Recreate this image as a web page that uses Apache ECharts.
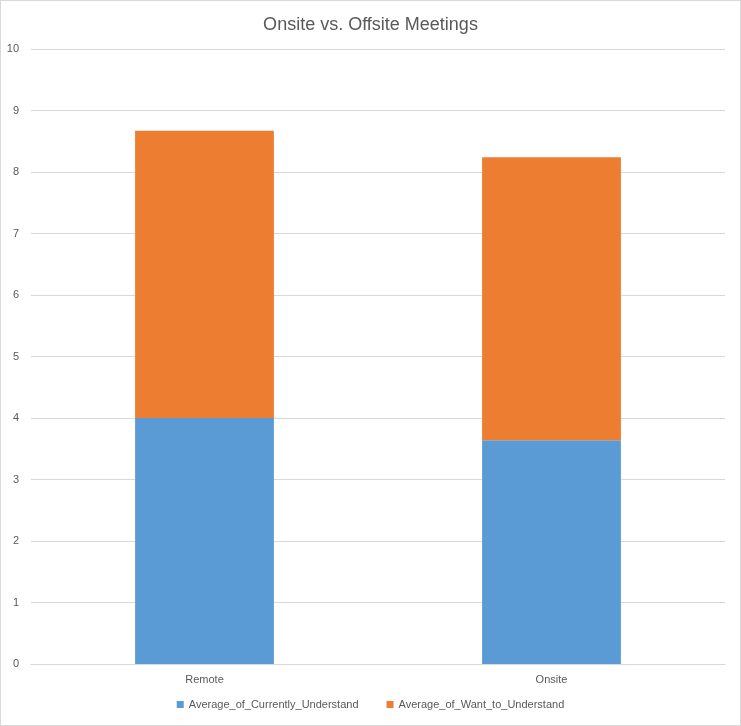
<!DOCTYPE html>
<html>
<head>
    <meta charset="utf-8" />
    <title>Onsite vs. Offsite Meetings</title>
    <style>
        html, body { margin: 0; padding: 0; background: #fff; }
        #chart { width: 739px; height: 724px; border: 1px solid #d9d9d9; }
    </style>
</head>
<body>
    <div id="chart"></div>
    <script src="https://cdn.jsdelivr.net/npm/echarts@6/dist/echarts.min.js"></script>
    <script>
        // categories
        const categories = ['Remote', 'Onsite'];
        // series values
        const currentlyUnderstand = [4.0, 3.64];
        const wantToUnderstand = [4.67, 4.6];
        const textColor = '#595959';
        const fontFamily = '"Liberation Sans", Arial, sans-serif';

        const chart = echarts.init(document.getElementById('chart'));
        chart.setOption({
            animation: false,
            backgroundColor: '#fff',
            textStyle: { fontFamily: fontFamily },
            title: {
                text: 'Onsite vs. Offsite Meetings',
                left: 'center',
                top: 10,
                textStyle: { color: textColor, fontSize: 18, fontWeight: 'normal', fontFamily: fontFamily }
            },
            grid: { left: 30, right: 15, top: 48, bottom: 61, containLabel: false },
            legend: {
                bottom: 10,
                left: 'center',
                itemWidth: 7,
                itemHeight: 7,
                itemGap: 28,
                icon: 'rect',
                textStyle: { color: textColor, fontSize: 11, fontFamily: fontFamily }
            },
            xAxis: {
                type: 'category',
                data: categories,
                axisLine: { lineStyle: { color: '#d9d9d9' } },
                axisTick: { show: false },
                axisLabel: { color: textColor, fontSize: 11, margin: 10 }
            },
            yAxis: {
                type: 'value',
                min: 0,
                max: 10,
                interval: 1,
                axisLine: { show: false },
                axisTick: { show: false },
                axisLabel: { color: textColor, fontSize: 11, margin: 12 },
                splitLine: { lineStyle: { color: '#d9d9d9' } }
            },
            series: [
                {
                    name: 'Average_of_Currently_Understand',
                    type: 'bar',
                    stack: 'total',
                    data: currentlyUnderstand,
                    barWidth: '40%',
                    itemStyle: { color: '#5b9bd5' }
                },
                {
                    name: 'Average_of_Want_to_Understand',
                    type: 'bar',
                    stack: 'total',
                    data: wantToUnderstand,
                    barWidth: '40%',
                    itemStyle: { color: '#ed7d31' }
                }
            ]
        });
    </script>
</body>
</html>
